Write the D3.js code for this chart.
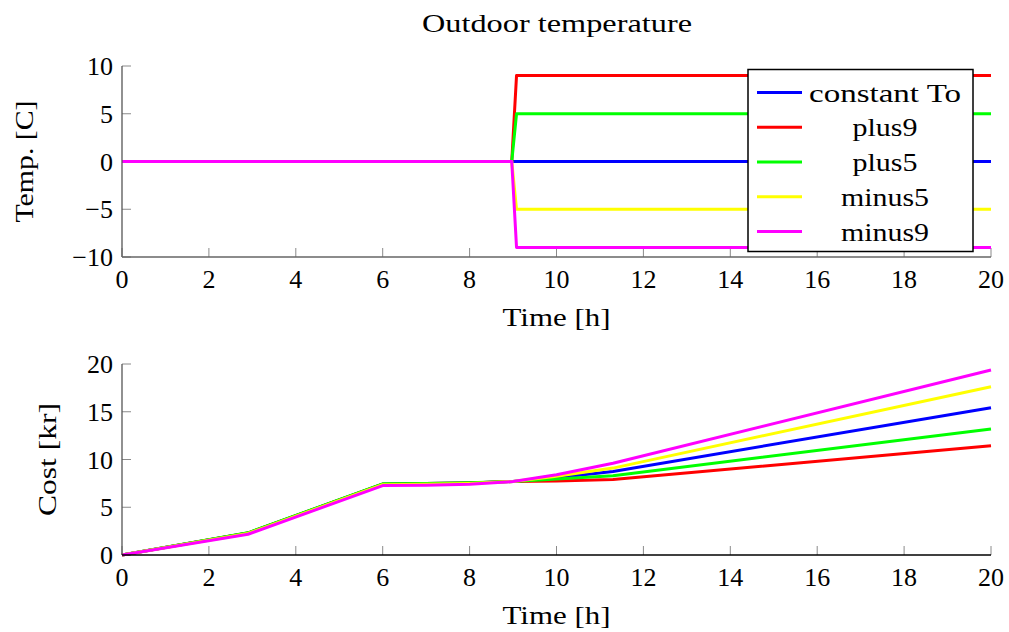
<!DOCTYPE html>
<html>
<head>
<meta charset="utf-8">
<script src="https://cdn.jsdelivr.net/npm/d3@7/dist/d3.min.js"></script>
<style>
  html, body { margin: 0; padding: 0; background: #fff; }
  svg { display: block; }
  text { font-family: "Liberation Serif", "DejaVu Serif", serif; fill: #000; }
</style>
</head>
<body>
<svg id="chart" width="1009" height="632"></svg>
<script>
// Series names and colours
const seriesNames = ["constant To", "plus9", "plus5", "minus5", "minus9"];
const seriesColors = ["#0000ff", "#ff0000", "#00ff00", "#ffff00", "#ff00ff"];

// Outdoor temperature: step change just after 9 h
const tempTime = [0, 8.97, 9.08, 20];
const tempConstant = [0, 0, 0, 0];
const tempPlus9 = [0, 0, 9, 9];
const tempPlus5 = [0, 0, 5, 5];
const tempMinus5 = [0, 0, -5, -5];
const tempMinus9 = [0, 0, -9, -9];

// Accumulated cost
const costTime = [0, 2.9, 6, 7, 8, 9, 10, 11.3, 20];
const costConstant = [0, 2.3, 7.42, 7.48, 7.55, 7.7, 8.1, 8.75, 15.42];
const costPlus9 = [0, 2.3, 7.42, 7.48, 7.55, 7.7, 7.75, 7.9, 11.45];
const costPlus5 = [0, 2.32, 7.45, 7.5, 7.56, 7.7, 7.95, 8.3, 13.19];
const costMinus5 = [0, 2.25, 7.36, 7.4, 7.5, 7.7, 8.25, 9.1, 17.62];
const costMinus9 = [0, 2.17, 7.27, 7.3, 7.42, 7.7, 8.4, 9.6, 19.37];

const xTicks = [0, 2, 4, 6, 8, 10, 12, 14, 16, 18, 20];
const tempTicks = [-10, -5, 0, 5, 10];
const costTicks = [0, 5, 10, 15, 20];

const tempSeries = [tempConstant, tempPlus9, tempPlus5, tempMinus5, tempMinus9];
const costSeries = [costConstant, costPlus9, costPlus5, costMinus5, costMinus9];

const svg = d3.select("#chart");
const left = 122, right = 991;
const fs = 26;

// Wide serif text: stretch to the set width
function wideText(sel, len) {
  return sel.attr("textLength", len).attr("lengthAdjust", "spacingAndGlyphs");
}

function panel(cfg) {
  const x = d3.scaleLinear().domain([0, 20]).range([left, right]);
  const y = d3.scaleLinear().domain(cfg.yDomain).range([cfg.bottom, cfg.top]);
  const g = svg.append("g");

  // tick marks, pointing inward
  g.selectAll(".xt").data(xTicks).enter().append("line")
    .attr("x1", d => x(d)).attr("x2", d => x(d))
    .attr("y1", cfg.bottom).attr("y2", cfg.bottom - 9)
    .attr("stroke", "#8a8a8a").attr("stroke-width", 1);
  g.selectAll(".yt").data(cfg.yTicks).enter().append("line")
    .attr("x1", left).attr("x2", left + 9)
    .attr("y1", d => y(d)).attr("y2", d => y(d))
    .attr("stroke", "#8a8a8a").attr("stroke-width", 1);

  // data lines
  const line = d3.line().x(d => x(d[0])).y(d => y(d[1]));
  cfg.series.forEach((vals, i) => {
    g.append("path")
      .datum(cfg.time.map((t, k) => [t, vals[k]]))
      .attr("d", line)
      .attr("fill", "none")
      .attr("stroke", seriesColors[i])
      .attr("stroke-width", 3)
      .attr("stroke-linejoin", "round");
  });

  // axis lines
  g.append("line").attr("x1", left).attr("x2", left)
    .attr("y1", cfg.top).attr("y2", cfg.bottom)
    .attr("stroke", "#555").attr("stroke-width", 1.3);
  g.append("line").attr("x1", left).attr("x2", right)
    .attr("y1", cfg.bottom).attr("y2", cfg.bottom)
    .attr("stroke", cfg.xAxisColor).attr("stroke-width", 1.6);

  // tick labels
  const fmt = d3.format("d");
  g.selectAll(".xl").data(xTicks).enter().append("text")
    .attr("x", d => x(d)).attr("y", cfg.bottom + 31)
    .attr("text-anchor", "middle").attr("font-size", fs)
    .text(d => fmt(d));
  g.selectAll(".yl").data(cfg.yTicks).enter().append("text")
    .attr("x", left - 9).attr("y", d => y(d) + 9)
    .attr("text-anchor", "end").attr("font-size", fs)
    .text(d => fmt(d));

  // axis titles
  wideText(g.append("text").attr("x", (left + right) / 2).attr("y", cfg.bottom + 69)
    .attr("text-anchor", "middle").attr("font-size", fs).text("Time [h]"), 108);
  wideText(g.append("text")
    .attr("transform", `translate(${cfg.yLabelX},${(cfg.top + cfg.bottom) / 2}) rotate(-90)`)
    .attr("text-anchor", "middle").attr("font-size", fs).text(cfg.yLabel), cfg.yLabelLen);
  return { x, y, g };
}

panel({
  top: 66, bottom: 257, yDomain: [-10, 10], yTicks: tempTicks,
  time: tempTime, series: tempSeries, yLabel: "Temp. [C]", yLabelX: 33, yLabelLen: 122,
  xAxisColor: "#666"
});

panel({
  top: 364, bottom: 555, yDomain: [0, 20], yTicks: costTicks,
  time: costTime, series: costSeries, yLabel: "Cost [kr]", yLabelX: 56, yLabelLen: 113,
  xAxisColor: "#000"
});

// title
wideText(svg.append("text").attr("x", 557).attr("y", 32)
  .attr("text-anchor", "middle").attr("font-size", fs)
  .text("Outdoor temperature"), 270);

// legend
const legendLens = [152, 65, 65, 88, 88];
const lg = svg.append("g");
const lx = 748, ly = 69.5, lw = 225, lh = 182;
lg.append("rect").attr("x", lx).attr("y", ly).attr("width", lw).attr("height", lh)
  .attr("fill", "#fff").attr("stroke", "#000").attr("stroke-width", 1.5);
const rowY = d3.scalePoint().domain(seriesNames).range([92.5, 231.5]);
seriesNames.forEach((name, i) => {
  const yy = rowY(name);
  lg.append("line").attr("x1", 757).attr("x2", 802).attr("y1", yy).attr("y2", yy)
    .attr("stroke", seriesColors[i]).attr("stroke-width", 3);
  wideText(lg.append("text").attr("x", 885).attr("y", yy + 9)
    .attr("text-anchor", "middle").attr("font-size", fs).text(name), legendLens[i]);
});
</script>
</body>
</html>
